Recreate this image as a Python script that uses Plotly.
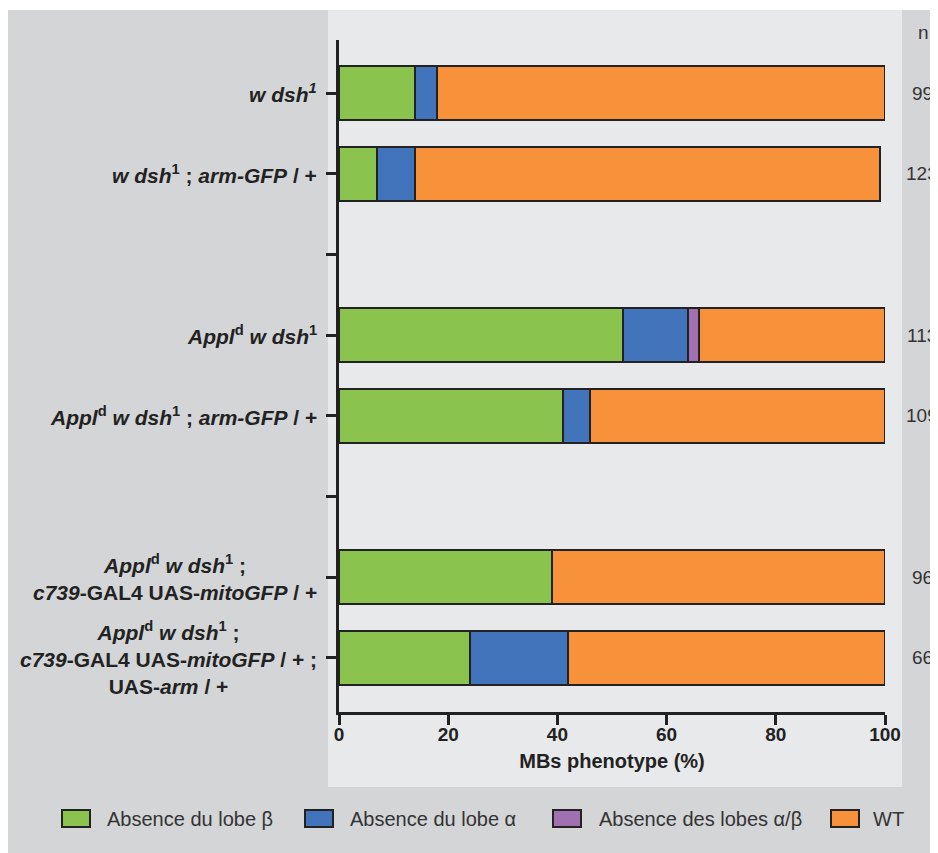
import plotly.graph_objects as go

# ---- data ----
genotypes = [
    "<b><i>w dsh<sup>1</sup></i></b>",
    "<b><i>w dsh</i><sup>1</sup> ; <i>arm-GFP</i> / +</b>",
    "<b><i>Appl</i><sup>d</sup> <i>w dsh</i><sup>1</sup></b>",
    "<b><i>Appl</i><sup>d</sup> <i>w dsh</i><sup>1</sup> ; <i>arm-GFP</i> / +</b>",
    "<b><i>Appl</i><sup>d</sup> <i>w dsh</i><sup>1</sup> ;<br><i>c739</i>-GAL4 UAS-<i>mitoGFP</i> / +</b>",
    "<b><i>Appl</i><sup>d</sup> <i>w dsh</i><sup>1</sup> ;<br><i>c739</i>-GAL4 UAS-<i>mitoGFP</i> / + ;<br>UAS-<i>arm</i> / +</b>",
]
# category order on the axis, with two empty spacer rows between groups
category_order = [genotypes[0], genotypes[1], " ", genotypes[2], genotypes[3], "  ", genotypes[4], genotypes[5]]

absence_beta = [14, 7, 52, 41, 39, 24]
absence_alpha = [4, 7, 12, 5, 0, 18]
absence_alpha_beta = [0, 0, 2, 0, 0, 0]
wt = [82, 85, 34, 54, 61, 58]
n_values = ["99", "123", "113", "109", "96", "66"]

series_names = ["Absence du lobe β", "Absence du lobe α", "Absence des lobes α/β", "WT"]
series_colors = ["#8bc34f", "#4174ba", "#a070b0", "#f7923a"]
series_values = [absence_beta, absence_alpha, absence_alpha_beta, wt]

x_ticks = [0, 20, 40, 60, 80, 100]

# ---- figure (page has an 8px body margin) ----
OFF = 8
W, H = 930, 845
L, R, T = 331, 53, 32
pw, ph = W - L - R, 672
B = H - T - ph

def px(page_x):
    return (page_x - OFF - L) / pw

def py(page_y):
    return (H - B - (page_y - OFF)) / ph

fig = go.Figure()
for name, color, vals in zip(series_names, series_colors, series_values):
    fig.add_trace(go.Bar(
        y=genotypes, x=vals, name=name, orientation="h",
        marker=dict(color=color, line=dict(color="#222222", width=2)),
        width=0.67, showlegend=False,
    ))

FONT = "Liberation Sans, Arial, Helvetica, sans-serif"

shapes = [
    # outer grey background
    dict(type="rect", xref="paper", yref="paper", x0=px(8), x1=px(940), y0=py(860), y1=py(10),
         fillcolor="#d4d5d7", line=dict(width=0), layer="below"),
    # lighter plot panel
    dict(type="rect", xref="paper", yref="paper", x0=px(328), x1=px(902), y0=py(787), y1=py(10),
         fillcolor="#e8e9eb", line=dict(width=0), layer="below"),
]

annotations = []
# y labels
for g in genotypes:
    annotations.append(dict(
        x=px(319), xref="paper", y=g, yref="y", text=g, showarrow=False,
        xanchor="right", yanchor="middle", align="center",
        font=dict(family=FONT, size=21, color="#222222"),
    ))
# n column
annotations.append(dict(x=px(923), xref="paper", y=py(32), yref="paper", text="n", showarrow=False,
                        xanchor="center", yanchor="middle",
                        font=dict(family=FONT, size=19, color="#333333")))
for g, n in zip(genotypes, n_values):
    annotations.append(dict(x=px(922), xref="paper", y=g, yref="y", text=n, showarrow=False,
                            xanchor="center", yanchor="middle",
                            font=dict(family=FONT, size=19, color="#333333")))

# manual legend
legend_box_x = [62, 305, 553, 831]
legend_text_x = [105, 348, 597, 871]
for name, color, bx, tx in zip(series_names, series_colors, legend_box_x, legend_text_x):
    shapes.append(dict(type="rect", xref="paper", yref="paper", x0=px(bx), x1=px(bx + 28),
                       y0=py(827), y1=py(810), fillcolor=color,
                       line=dict(color="#222222", width=2)))
    annotations.append(dict(x=px(tx), xref="paper", y=py(818.5), yref="paper", text=name,
                            showarrow=False, xanchor="left", yanchor="middle",
                            font=dict(family=FONT, size=20, color="#333333")))

fig.update_layout(
    width=W, height=H,
    margin=dict(l=L, r=R, t=T, b=B, pad=0),
    barmode="stack",
    paper_bgcolor="white",
    plot_bgcolor="rgba(0,0,0,0)",
    shapes=shapes,
    annotations=annotations,
    showlegend=False,
    xaxis=dict(
        range=[0, 100], tickvals=x_ticks, showgrid=False, zeroline=False,
        showline=True, linewidth=3, linecolor="#222222",
        ticks="outside", ticklen=10, tickwidth=3, tickcolor="#222222",
        ticklabelstandoff=-7,
        tickfont=dict(family=FONT, size=19, color="#222222", weight="bold"),
        title=dict(text="<b>MBs phenotype (%)</b>", standoff=11,
                   font=dict(family=FONT, size=20, color="#222222")),
    ),
    yaxis=dict(
        type="category", categoryorder="array", categoryarray=category_order,
        range=[7.67, -0.66], showgrid=False, zeroline=False,
        showline=True, linewidth=3, linecolor="#222222",
        ticks="outside", ticklen=10, tickwidth=3, tickcolor="#222222",
        showticklabels=False,
    ),
)

fig.write_html("out.html")
